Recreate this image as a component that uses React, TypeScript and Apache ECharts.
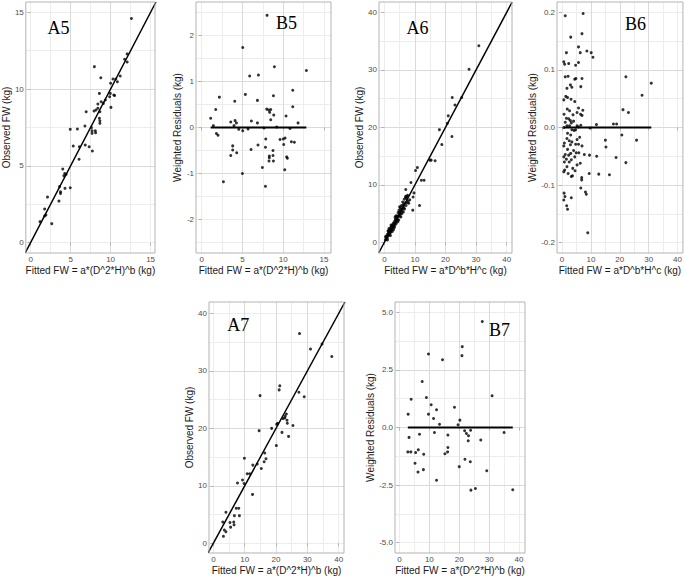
import React, { useEffect, useRef } from 'react';
import * as echarts from 'echarts';

// ---------- DATA: [fitted, observed] or [fitted, weighted residual] ----------
const a5Points: [number, number][] = [
  [12.6, 14.6], [12.07, 12.29], [12.07, 11.76], [11.75, 11.94], [11.2, 10.85], [10.65, 10.66], [10.3, 10.66],
  [10.85, 10.48], [7.97, 11.46], [8.78, 10.74], [8.6, 9.72], [10.0, 10.38], [9.96, 9.72], [10.4, 9.62],
  [10.5, 9.58], [9.88, 9.5], [9.35, 9.29], [8.82, 9.18], [9.1, 9.07], [10.04, 8.81], [8.41, 9.03], [8.41, 8.75],
  [8.17, 8.64], [7.93, 8.57], [8.66, 8.53], [6.95, 8.53], [8.6, 8.1], [8.66, 7.94], [8.66, 7.77], [6.79, 7.6],
  [4.96, 7.38], [5.85, 7.4], [7.6, 7.49], [7.68, 7.29], [8.09, 7.29], [8.13, 7.16], [7.68, 7.12], [5.33, 6.3],
  [6.1, 6.25], [6.83, 6.36], [7.32, 6.25], [7.72, 5.97], [6.06, 5.43], [4.02, 4.8], [4.27, 4.51], [4.15, 4.36],
  [4.43, 4.45], [4.3, 3.54], [4.96, 3.58], [3.74, 3.32], [3.74, 3.21], [3.54, 2.71], [3.62, 3.65], [2.11, 2.97],
  [1.75, 2.19], [1.91, 1.8], [1.75, 1.74], [1.18, 1.37], [2.64, 1.24],
];
const b5Points: [number, number][] = [
  [8.01, 2.44], [5.03, 1.74], [8.91, 1.32], [12.83, 1.24], [5.88, 1.12], [6.95, 1.14], [11.16, 0.81], [5.35, 0.72],
  [8.79, 0.69], [2.17, 0.66], [6.83, 0.59], [4.05, 0.57], [11.16, 0.45], [1.72, 0.39], [7.97, 0.4], [8.21, 0.38],
  [8.46, 0.39], [8.33, 0.33], [8.83, 0.27], [10.34, 0.25], [1.1, 0.2], [3.56, 0.12], [4.09, 0.15], [4.25, 0.1],
  [6.09, 0.14], [6.83, 0.1], [8.46, 0.17], [11.81, 0.1], [1.43, 0.04], [3.96, 0.04], [9.19, 0.01], [4.54, -0.04],
  [5.03, -0.07], [5.68, -0.03], [7.64, -0.01], [10.82, -0.02], [1.8, -0.13], [2.0, -0.17], [9.6, -0.26],
  [10.0, -0.25], [10.22, -0.23], [7.85, -0.25], [10.99, -0.31], [11.36, -0.32], [10.05, -0.37], [6.9, -0.38],
  [3.8, -0.4], [7.81, -0.43], [3.8, -0.49], [8.74, -0.5], [4.29, -0.55], [6.05, -0.48], [3.56, -0.61],
  [8.29, -0.62], [8.29, -0.66], [8.74, -0.61], [10.5, -0.67], [10.42, -0.64], [8.25, -0.73], [8.79, -0.73],
  [7.44, -0.87], [10.18, -0.92], [4.99, -1.0], [2.66, -1.18], [7.81, -1.28],
];
const a6Points: [number, number][] = [
  [30.9, 34.2], [27.7, 30.1], [25.3, 25.2], [22.2, 25.2], [23.1, 23.9], [20.9, 22.0], [20.6, 20.7], [22.1, 18.4],
  [18.0, 19.6], [18.8, 17.0], [14.9, 14.3], [16.6, 14.2], [15.3, 14.3], [10.2, 12.5], [10.8, 13.0], [12.1, 10.8],
  [13.0, 10.8], [8.7, 10.4], [7.0, 9.2], [9.7, 8.6], [9.4, 7.9], [11.5, 6.4], [9.3, 5.6],
  [0.3, 0.4], [0.5, 0.8], [0.6, 0.5], [0.8, 1.0], [0.9, 1.3], [1.0, 0.7], [1.1, 1.1], [1.2, 1.5], [1.3, 1.9],
  [1.4, 1.2], [1.5, 1.6], [1.6, 2.1], [1.7, 1.4], [1.8, 1.8], [1.9, 2.3], [2.0, 1.7], [2.1, 2.6], [2.2, 2.0],
  [2.3, 2.4], [2.4, 2.9], [2.5, 2.2], [2.6, 2.7], [2.7, 3.1], [2.8, 2.5], [2.9, 2.9], [3.0, 3.4], [3.1, 2.8],
  [3.2, 3.2], [3.3, 2.6], [3.4, 3.7], [3.5, 3.0], [3.6, 4.1], [3.7, 3.5], [3.8, 3.9], [3.9, 3.3], [4.0, 4.4],
  [4.1, 3.8], [4.2, 4.6], [4.3, 4.0], [4.5, 5.2], [4.6, 4.5], [4.8, 5.6], [4.9, 4.9], [5.0, 5.3], [5.2, 6.0],
  [5.3, 5.0], [5.5, 5.7], [5.6, 6.4], [5.8, 5.4], [5.9, 5.9], [6.0, 7.0], [6.2, 5.3], [6.3, 6.6], [6.5, 7.5],
  [6.6, 5.8], [6.8, 6.9], [7.0, 8.0], [7.1, 6.4], [7.3, 7.6], [7.5, 6.9], [7.6, 8.2], [7.8, 7.2], [8.0, 6.8],
  [8.3, 7.4], [1.2, 2.0], [2.6, 1.9], [3.0, 2.2], [4.4, 3.6], [5.1, 4.6], [5.7, 5.0], [6.4, 6.0],
  [1.5, 2.4], [2.2, 3.0], [3.5, 4.4], [4.7, 3.9], [5.4, 4.4], [6.1, 6.3], [6.9, 7.8], [7.4, 8.0], [2.0, 1.2],
  [3.8, 4.6], [5.0, 6.2], [0.4, 1.0], [1.0, 0.4],
];
const b6Points: [number, number][] = [
  [1.1, 0.194], [7.3, 0.198], [3.0, 0.157], [6.9, 0.163], [5.7, 0.14], [1.5, 0.13], [6.3, 0.13], [8.6, 0.133],
  [10.1, 0.13], [10.7, 0.122], [0.6, 0.114], [0.9, 0.11], [2.3, 0.111], [5.7, 0.113], [4.7, 0.108], [1.1, 0.088],
  [2.1, 0.089], [4.4, 0.084], [4.8, 0.085], [6.9, 0.085], [2.9, 0.074], [1.7, 0.068], [3.4, 0.07], [6.5, 0.071],
  [1.3, 0.054], [1.9, 0.052], [0.6, 0.048], [3.1, 0.049], [4.4, 0.045], [5.7, 0.034], [1.8, 0.032], [2.6, 0.029],
  [7.2, 0.03], [5.2, 0.026], [0.7, 0.023], [3.8, 0.022], [6.4, 0.023], [6.9, 0.021], [1.5, 0.016], [2.3, 0.015],
  [2.9, 0.012], [1.1, 0.009], [3.2, 0.008], [4.0, 0.011], [1.7, 0.003], [2.6, 0.003], [5.2, 0.003], [5.7, 0.001],
  [6.5, 0.004], [0.6, 0.0], [3.4, -0.004], [4.2, -0.005], [4.7, -0.004], [9.7, -0.001], [1.9, -0.01],
  [3.0, -0.013], [1.7, -0.019], [6.1, -0.017], [5.2, -0.021], [2.5, -0.023], [3.4, -0.025], [0.8, -0.027],
  [4.7, -0.029], [2.9, -0.03], [5.7, -0.029], [0.6, -0.032], [6.9, -0.032], [1.9, -0.038], [4.0, -0.04],
  [4.9, -0.044], [3.0, -0.045], [5.8, -0.044], [1.1, -0.047], [2.3, -0.048], [7.7, -0.047], [0.6, -0.051],
  [4.4, -0.051], [1.5, -0.055], [3.2, -0.056], [0.8, -0.06], [2.5, -0.06], [6.3, -0.062], [5.2, -0.065],
  [1.7, -0.068], [3.7, -0.071], [0.9, -0.074], [4.5, -0.075], [0.6, -0.077], [2.1, -0.08], [3.6, -0.084],
  [3.2, -0.085], [6.8, -0.087], [6.8, -0.091], [0.7, -0.114], [1.0, -0.12], [0.6, -0.126], [3.2, -0.122],
  [1.6, -0.136], [1.9, -0.142], [6.5, -0.105], [8.1, -0.112], [8.4, -0.116], [8.9, -0.183],
  [22.1, 0.088], [30.9, 0.077], [27.7, 0.056], [21.1, 0.031], [23.0, 0.026], [17.8, 0.006], [18.9, 0.006],
  [11.9, 0.005], [20.7, -0.013], [25.8, -0.022], [15.0, -0.022], [15.2, -0.034], [18.7, -0.052], [22.1, -0.061],
  [12.0, -0.05], [9.5, -0.048], [16.4, -0.082], [12.7, -0.081], [9.4, -0.08],
];
const a7Points: [number, number][] = [
  [27.5, 36.5], [31.0, 33.8], [34.7, 34.7], [37.8, 32.5], [27.3, 26.3], [29.0, 25.5], [21.2, 27.4], [21.0, 26.7],
  [14.9, 25.7], [14.6, 19.6], [18.6, 20.0], [20.2, 20.7], [20.5, 20.9], [22.2, 21.7], [22.9, 22.1], [23.3, 22.5],
  [22.8, 21.8], [23.5, 21.4], [23.6, 20.9], [25.4, 20.5], [21.9, 19.3], [24.0, 18.6], [20.1, 17.0], [16.4, 15.7],
  [16.8, 14.7], [16.2, 14.2], [15.3, 13.0], [12.6, 13.6], [14.0, 13.8], [9.9, 14.8], [10.8, 12.1], [11.6, 12.1],
  [9.3, 11.0], [9.8, 10.4], [7.7, 10.5], [12.5, 8.5], [7.3, 6.1], [8.1, 6.1], [6.7, 4.8], [8.3, 4.8], [6.5, 3.7],
  [5.3, 3.6], [5.5, 2.8], [4.0, 5.4], [3.0, 3.7], [3.5, 2.3], [3.2, 1.2], [4.0, 2.0], [6.6, 3.2],
];
const b7Points: [number, number][] = [
  [27.7, 4.6], [9.7, 3.19], [21.0, 3.51], [20.9, 3.12], [14.4, 2.94], [7.6, 2.0], [31.0, 1.38], [3.9, 1.23],
  [9.0, 1.3], [10.6, 0.99], [2.9, 0.58], [9.7, 0.58], [12.4, 0.77], [18.4, 0.88], [11.4, 0.39], [20.2, 0.32],
  [13.4, 0.14], [19.6, 0.12], [21.8, -0.14], [23.8, -0.12], [22.4, -0.26], [23.1, -0.36], [11.7, -0.22],
  [35.0, -0.22], [16.2, -0.33], [3.2, -0.43], [6.7, -0.29], [23.0, -0.58], [27.2, -0.54], [16.2, -0.87],
  [6.3, -0.97], [2.8, -1.06], [3.8, -1.06], [5.4, -1.09], [16.1, -1.06], [15.2, -1.14], [8.1, -1.16],
  [21.9, -1.38], [23.7, -1.49], [5.2, -1.55], [20.0, -1.7], [8.0, -1.83], [6.2, -1.93], [29.2, -1.88],
  [12.4, -2.29], [25.4, -2.65], [23.9, -2.72], [37.9, -2.7],
];

// ---------- AXES: limits and tick labels ----------
const a5XLim = [-0.6, 15.55]; const a5YLim = [-0.67, 15.67];
const b5XLim = [-0.7, 15.85]; const b5YLim = [-2.73, 2.73];
const a6XLim = [-1.75, 41.75]; const a6YLim = [-1.85, 41.8];
const b6XLim = [-1.75, 41.85]; const b6YLim = [-0.218, 0.218];
const a7XLim = [-1.4, 41.7]; const a7YLim = [-1.7, 42.0];
const b7XLim = [-1.5, 42.0]; const b7YLim = [-5.45, 5.45];

const ticks15 = [0, 5, 10, 15];
const ticks40 = [0, 10, 20, 30, 40];
const b5YTicks = [-2, -1, 0, 1, 2];
const b6YTicks = [-0.2, -0.1, 0.0, 0.1, 0.2];
const b7YTicks = [-5.0, -2.5, 0.0, 2.5, 5.0];

const xName1 = 'Fitted FW = a*(D^2*H)^b (kg)';
const xName2 = 'Fitted FW = a*D^b*H^c (kg)';
const yObs = 'Observed FW (kg)';
const yRes = 'Weighted Residuals (kg)';

type Panel = {
  label: string; lx: number; ly: number;
  grid: { left: number; top: number; width: number; height: number };
  xLim: number[]; yLim: number[]; xTicks: number[]; yTicks: number[];
  xDec: number; yDec: number; xName: string; yName: string; yGap: number;
  points: [number, number][]; kind: 'obs' | 'res';
};

const panels: Panel[] = [
  { label: 'A5', lx: 47.5, ly: 27.5, grid: { left: 23, top: 2, width: 132, height: 251 }, xLim: a5XLim, yLim: a5YLim,
    xTicks: ticks15, yTicks: ticks15, xDec: 0, yDec: 0, xName: xName1, yName: yObs, yGap: 13, points: a5Points, kind: 'obs' },
  { label: 'B5', lx: 276, ly: 22.5, grid: { left: 196, top: 2, width: 135, height: 251 }, xLim: b5XLim, yLim: b5YLim,
    xTicks: ticks15, yTicks: b5YTicks, xDec: 0, yDec: 0, xName: xName1, yName: yRes, yGap: 11, points: b5Points, kind: 'res' },
  { label: 'A6', lx: 406.5, ly: 27.5, grid: { left: 379, top: 2, width: 133, height: 251 }, xLim: a6XLim, yLim: a6YLim,
    xTicks: ticks40, yTicks: ticks40, xDec: 0, yDec: 0, xName: xName2, yName: yObs, yGap: 12, points: a6Points, kind: 'obs' },
  { label: 'B6', lx: 625, ly: 23.8, grid: { left: 557, top: 2, width: 127, height: 251 }, xLim: b6XLim, yLim: b6YLim,
    xTicks: ticks40, yTicks: b6YTicks, xDec: 0, yDec: 1, xName: xName2, yName: yRes, yGap: 19, points: b6Points, kind: 'res' },
  { label: 'A7', lx: 227.3, ly: 325, grid: { left: 209, top: 302, width: 135, height: 251 }, xLim: a7XLim, yLim: a7YLim,
    xTicks: ticks40, yTicks: ticks40, xDec: 0, yDec: 0, xName: xName1, yName: yObs, yGap: 12, points: a7Points, kind: 'obs' },
  { label: 'B7', lx: 489, ly: 330, grid: { left: 395, top: 302, width: 130, height: 251 }, xLim: b7XLim, yLim: b7YLim,
    xTicks: ticks40, yTicks: b7YTicks, xDec: 0, yDec: 1, xName: xName1, yName: yRes, yGap: 18, points: b7Points, kind: 'res' },
];

const FONT = '"Liberation Sans", Arial, sans-serif';
const BORDER = '#b3b3b3';

function axisPair(dim: 'x' | 'y', gi: number, lim: number[], tickVals: number[], dec: number, name: string, gap: number) {
  const step = tickVals[1] - tickVals[0];
  const isTick = (v: number) => tickVals.some((t) => Math.abs(t - v) < step * 1e-6);
  const major = {
    type: 'value', gridIndex: gi, min: lim[0], max: lim[1],
    position: dim === 'x' ? 'bottom' : 'left',
    minInterval: step, maxInterval: step, splitNumber: 4,
    z: 1,
    name, nameLocation: 'middle', nameGap: gap,
    nameTextStyle: { fontSize: 10, color: '#1a1a1a', fontFamily: FONT },
    axisLine: { show: false },
    axisTick: { show: true, length: 3, lineStyle: { color: BORDER, width: 1 }, customValues: tickVals },
    axisLabel: {
      show: true, fontSize: 8, color: '#4d4d4d', fontFamily: FONT, margin: 2, customValues: tickVals,
      formatter: (v: number) => (isTick(v) ? v.toFixed(dec) : ''),
    },
    splitLine: { show: true, showMinLine: false, showMaxLine: false, lineStyle: { color: '#dadada', width: 1 } },
  };
  const minor = {
    type: 'value', gridIndex: gi, min: lim[0], max: lim[1],
    position: dim === 'x' ? 'bottom' : 'left',
    minInterval: step / 2, maxInterval: step / 2, splitNumber: 8,
    z: 0,
    axisLine: { show: false }, axisTick: { show: false }, axisLabel: { show: false },
    splitLine: { show: true, showMinLine: false, showMaxLine: false, lineStyle: { color: '#ededed', width: 1 } },
  };
  return [major, minor];
}

export default function App() {
  const ref = useRef<HTMLDivElement>(null);
  useEffect(() => {
    if (!ref.current) return;
    const chart = echarts.init(ref.current, undefined, { renderer: 'svg' });
    const grids: any[] = [];
    const xAxes: any[] = [];
    const yAxes: any[] = [];
    const series: any[] = [];
    const graphics: any[] = [];
    panels.forEach((p, i) => {
      grids.push({ ...p.grid, show: true, z: 5, backgroundColor: 'transparent', borderColor: BORDER, borderWidth: 1 });
      xAxes.push(...axisPair('x', i, p.xLim, p.xTicks, p.xDec, p.xName, 12));
      yAxes.push(...axisPair('y', i, p.yLim, p.yTicks, p.yDec, p.yName, p.yGap));
      const xi = 2 * i;
      series.push({
        type: 'scatter', xAxisIndex: xi, yAxisIndex: xi, data: p.points,
        symbolSize: 3, itemStyle: { color: '#000' }, silent: true, z: 3,
      });
      let lineData: number[][];
      if (p.kind === 'obs') {
        const lo = Math.min(p.xLim[0], p.yLim[0]);
        const hi = Math.max(p.xLim[1], p.yLim[1]);
        lineData = [[lo, lo], [hi, hi]];
      } else {
        const xs = p.points.map((d) => d[0]);
        lineData = [[Math.min(...xs), 0], [Math.max(...xs), 0]];
      }
      series.push({
        type: 'line', xAxisIndex: xi, yAxisIndex: xi, data: lineData, showSymbol: false, symbol: 'none',
        lineStyle: { color: '#000', width: p.kind === 'obs' ? 1.5 : 2 }, clip: true, silent: true, z: 4,
      });
      graphics.push({
        type: 'text', x: p.lx, y: p.ly, z: 10,
        style: { text: p.label, fontSize: 18, fontFamily: '"Liberation Serif", "Times New Roman", serif', fill: '#000',
          textAlign: 'left', textVerticalAlign: 'middle' },
      });
    });
    chart.setOption({
      animation: false,
      backgroundColor: '#ffffff',
      textStyle: { fontFamily: FONT },
      grid: grids,
      xAxis: xAxes,
      yAxis: yAxes,
      series,
      graphic: graphics,
    });
    return () => chart.dispose();
  }, []);
  return <div ref={ref} style={{ position: 'fixed', left: 0, top: 0, width: 685, height: 578, background: '#fff' }} />;
}
